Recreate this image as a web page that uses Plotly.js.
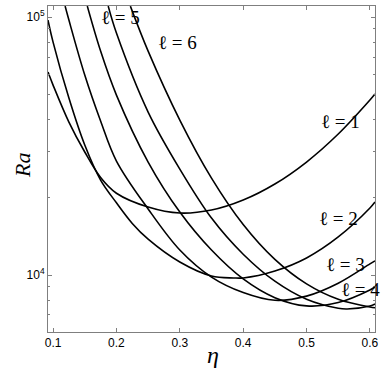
<!DOCTYPE html>
<html>
<head>
<meta charset="utf-8">
<script src="https://cdn.plot.ly/plotly-3.0.1.min.js"></script>
<style>
  html, body { margin: 0; padding: 0; background: #fff; }
  #chart { width: 384px; height: 371px; }
</style>
</head>
<body>
<div id="chart"></div>
<script>
// critical Rayleigh number vs radius ratio, one curve per mode l
var eta1 = [0.092, 0.10, 0.125, 0.15, 0.175, 0.20, 0.25, 0.30, 0.35, 0.40, 0.45, 0.50, 0.55, 0.60, 0.608];
var ra1  = [61200, 54500, 39170, 29980, 23880, 20750, 18350, 17390, 17860, 19530, 22530, 27420, 35200, 47690, 50300];

var eta2 = [0.092, 0.10, 0.125, 0.15, 0.175, 0.20, 0.225, 0.25, 0.30, 0.35, 0.385, 0.40, 0.45, 0.50, 0.55, 0.60, 0.608];
var ra2  = [97360, 80000, 48530, 31900, 23340, 19050, 15850, 13770, 11230, 9910, 9740, 9740, 10360, 11640, 14040, 18180, 19180];

var eta3 = [0.119, 0.125, 0.15, 0.175, 0.20, 0.25, 0.30, 0.35, 0.40, 0.45, 0.50, 0.55, 0.60, 0.608];
var ra3  = [110300, 97360, 59600, 39540, 27660, 18030, 12500, 9815, 8550, 7980, 8280, 9290, 11040, 11350];

var eta4 = [0.154, 0.175, 0.20, 0.25, 0.30, 0.35, 0.40, 0.45, 0.50, 0.55, 0.60, 0.608];
var ra4  = [110300, 73820, 49850, 27420, 17550, 12500, 9660, 8170, 7590, 7820, 8750, 8985];

var eta5 = [0.187, 0.20, 0.25, 0.30, 0.35, 0.40, 0.45, 0.50, 0.55, 0.564, 0.60, 0.608];
var ra5  = [110300, 86700, 42830, 25750, 16630, 12040, 9460, 8050, 7430, 7383, 7585, 7720];

var eta6 = [0.222, 0.25, 0.30, 0.35, 0.40, 0.45, 0.50, 0.55, 0.60, 0.608];
var ra6  = [110300, 73820, 39890, 23760, 15700, 11500, 9240, 8050, 7510, 7465];

var labelText = ['ℓ = 1', 'ℓ = 2', 'ℓ = 3', 'ℓ = 4', 'ℓ = 5', 'ℓ = 6'];
var labelEta  = [0.553, 0.550, 0.561, 0.585, 0.206, 0.296];
var labelRa   = [39500, 16500, 11030, 8750, 100000, 80000];

var xTicks = [0.1, 0.2, 0.3, 0.4, 0.5, 0.6];
var yTicks = [1e4, 1e5];
var yTickText = ['10<sup>4</sup>', '10<sup>5</sup>'];
var yMinor = [7000, 8000, 9000, 20000, 30000, 40000, 50000, 60000, 70000, 80000, 90000];

var etas = [eta1, eta2, eta3, eta4, eta5, eta6];
var ras = [ra1, ra2, ra3, ra4, ra5, ra6];

var traces = etas.map(function (e, i) {
    return {
        x: e,
        y: ras[i],
        mode: 'lines',
        line: {color: '#000', width: 1.6, shape: 'spline', smoothing: 1},
        hoverinfo: 'skip',
        showlegend: false
    };
});

var serif = 'Liberation Serif, DejaVu Serif, serif';

var annotations = labelText.map(function (t, i) {
    return {
        x: labelEta[i],
        y: Math.log10(labelRa[i]),
        xref: 'x', yref: 'y',
        text: t,
        showarrow: false,
        font: {family: serif, size: 19, color: '#000'}
    };
});

// axis titles placed by hand so they sit where the original has them
annotations.push({
    x: 0.505, y: -0.072, xref: 'paper', yref: 'paper',
    xanchor: 'center', yanchor: 'middle',
    text: '<i>η</i>', showarrow: false,
    font: {family: serif, size: 24, color: '#000'}
});
annotations.push({
    x: -0.08, y: 0.512, xref: 'paper', yref: 'paper',
    xanchor: 'center', yanchor: 'middle',
    text: '<i>Ra</i>', showarrow: false, textangle: -90,
    font: {family: serif, size: 22, color: '#000'}
});

var axisCommon = {
    showgrid: false,
    zeroline: false,
    showline: true,
    linecolor: '#7f7f7f',
    linewidth: 1,
    mirror: 'ticks',
    ticks: 'inside',
    ticklen: 4,
    tickcolor: '#7f7f7f',
    tickfont: {family: 'Liberation Sans, Arial, sans-serif', size: 12, color: '#000'}
};

var layout = {
    width: 384,
    height: 371,
    margin: {l: 48, r: 9, t: 6, b: 39},
    paper_bgcolor: '#fff',
    plot_bgcolor: '#fff',
    xaxis: Object.assign({}, axisCommon, {
        range: [0.092, 0.608],
        tickvals: xTicks,
        ticktext: xTicks.map(function (v) { return v.toFixed(1); })
    }),
    yaxis: Object.assign({}, axisCommon, {
        type: 'log',
        range: [3.779, 5.043],
        tickvals: yTicks,
        ticktext: yTickText,
        minor: {tickvals: yMinor, ticks: 'inside', ticklen: 2, tickcolor: '#7f7f7f'}
    }),
    annotations: annotations
};

Plotly.newPlot('chart', traces, layout, {displayModeBar: false, staticPlot: true});
</script>
</body>
</html>
